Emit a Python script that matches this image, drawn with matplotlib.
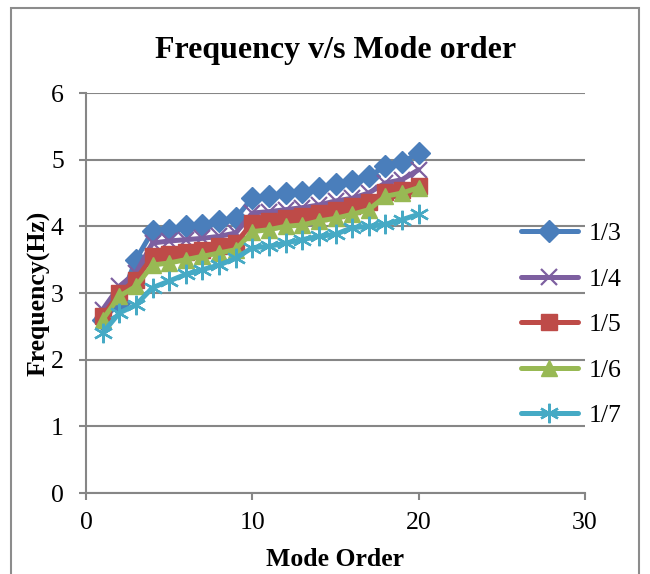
import matplotlib.pyplot as plt
from matplotlib.patches import Rectangle

plt.rcParams["font.family"] = ["Liberation Serif", "DejaVu Serif"]

mode_order = list(range(1, 21))

freq_1_3 = [2.60, 2.85, 3.50, 3.93, 3.95, 4.00, 4.02, 4.08, 4.12, 4.43,
            4.45, 4.50, 4.52, 4.57, 4.63, 4.68, 4.75, 4.90, 4.96, 5.10]
freq_1_4 = [2.75, 3.10, 3.30, 3.75, 3.78, 3.80, 3.82, 3.85, 3.90, 4.20,
            4.22, 4.25, 4.28, 4.32, 4.38, 4.42, 4.50, 4.65, 4.70, 4.85]
freq_1_5 = [2.65, 3.00, 3.20, 3.55, 3.58, 3.62, 3.65, 3.70, 3.75, 4.05,
            4.08, 4.12, 4.15, 4.20, 4.25, 4.30, 4.37, 4.52, 4.55, 4.60]
freq_1_6 = [2.60, 2.95, 3.10, 3.42, 3.45, 3.50, 3.55, 3.60, 3.65, 3.92,
            3.95, 4.00, 4.02, 4.08, 4.12, 4.18, 4.25, 4.45, 4.50, 4.58]
freq_1_7 = [2.40, 2.70, 2.82, 3.08, 3.18, 3.28, 3.35, 3.42, 3.52, 3.68,
            3.70, 3.75, 3.80, 3.85, 3.88, 3.98, 4.00, 4.03, 4.10, 4.18]

series_labels = ["1/3", "1/4", "1/5", "1/6", "1/7"]

fig = plt.figure(figsize=(6.5, 5.74), dpi=100)

# outer chart border (bottom edge cut off in the reference)
fig.patches.append(Rectangle((11 / 650, -0.05), 628 / 650, 1.05 - 8 / 574,
                             transform=fig.transFigure, fill=False,
                             edgecolor="#8c8c8c", linewidth=1.5))

ax = fig.add_axes([86 / 650, 1 - 493 / 574, 499 / 650, 400 / 574])

styles = [
    ("#4A7EBB", "D", 11, 1.0),
    ("#7D5FA0", "x", 11, 1.6),
    ("#BE4B48", "s", 11, 1.0),
    ("#98B954", "^", 12, 1.0),
    ("#46AAC5", (6, 2, 0), 14, 1.7),
]
all_series = [freq_1_3, freq_1_4, freq_1_5, freq_1_6, freq_1_7]

for vals, lab, (c, m, ms, mew) in zip(all_series, series_labels, styles):
    ax.plot(mode_order, vals, color=c, linewidth=3.6, marker=m,
            markersize=ms, markeredgewidth=mew, markeredgecolor=c,
            markerfacecolor=c, label=lab, solid_capstyle="round")

ax.set_xlim(0, 30)
ax.set_ylim(0, 6)
ax.set_xticks([0, 10, 20, 30])
ax.set_yticks(range(0, 7))
ax.grid(axis="y", color="#868686", linewidth=1.5)
ax.set_axisbelow(True)
for side in ["top", "right"]:
    ax.spines[side].set_visible(False)
for side in ["left", "bottom"]:
    ax.spines[side].set_color("#868686")
    ax.spines[side].set_linewidth(1.5)
ax.tick_params(colors="#868686", labelcolor="black", labelsize=18.5,
               length=5, width=1.5)
ax.tick_params(axis="y", pad=11)
ax.tick_params(axis="x", pad=9)

ax.set_title("Frequency v/s Mode order", fontsize=23, fontweight="bold",
             pad=25)
ax.set_xlabel("Mode Order", fontsize=18.5, fontweight="bold", labelpad=10)
ax.set_ylabel("Frequency(Hz)", fontsize=18.5, fontweight="bold", labelpad=0)

fig.legend(loc="upper left", bbox_to_anchor=(521 / 650, 1 - 222 / 574),
           frameon=False, fontsize=18.5, handlelength=2.2, labelspacing=0.88,
           borderpad=0, borderaxespad=0, handletextpad=0.45)

fig.savefig("out.png", dpi=100)
